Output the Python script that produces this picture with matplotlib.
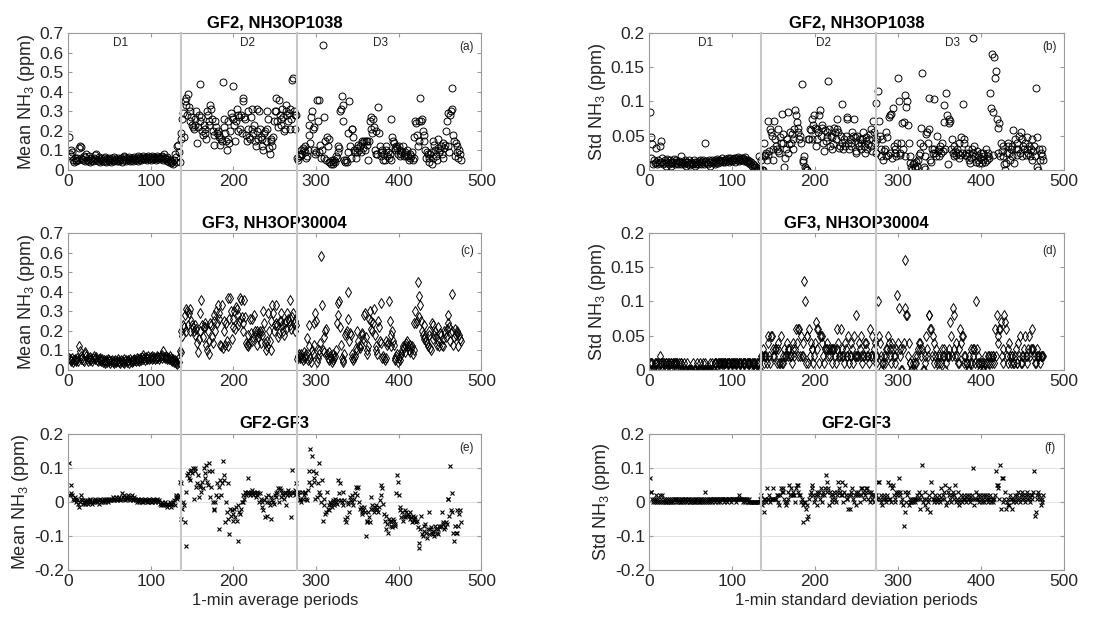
import numpy as np
import matplotlib
matplotlib.use('Agg')
import matplotlib.pyplot as plt
from matplotlib.lines import Line2D
from matplotlib.transforms import blended_transform_factory

plt.rcParams['font.family'] = ['Liberation Sans', 'DejaVu Sans']
plt.rcParams['mathtext.default'] = 'regular'

# values, in ppb (one value per period, periods start at 1)
mean_gf2 = [
    170, 80, 100, 70, 90, 50, 40, 60, 50, 45,
    60, 50, 110, 120, 115, 60, 55, 50, 70, 45,
    65, 80, 50, 45, 70, 40, 55, 60, 50, 45,
    60, 55, 75, 80, 50, 45, 65, 55, 40, 60,
    50, 45, 60, 65, 45, 40, 55, 50, 60, 45,
    55, 40, 60, 50, 45, 65, 50, 55, 45, 60,
    50, 45, 55, 60, 40, 50, 70, 65, 55, 45,
    60, 50, 55, 65, 45, 50, 60, 55, 45, 65,
    55, 50, 60, 70, 45, 55, 65, 50, 60, 55,
    70, 60, 55, 65, 50, 60, 70, 55, 65, 50,
    60, 70, 55, 65, 60, 50, 70, 60, 55, 65,
    60, 55, 70, 65, 50, 80, 60, 55, 65, 45,
    55, 40, 50, 35, 45, 40, 30, 50, 80, 65,
    40, 120, 130, 90, 40, 190, 160, 260, 290, 170,
    350, 370, 330, 280, 390, 320, 300, 250, 270, 230,
    220, 210, 230, 260, 300, 140, 220, 280, 440, 250,
    270, 200, 180, 230, 210, 190, 160, 300, 280, 230,
    250, 330, 310, 260, 200, 180, 130, 250, 220, 190,
    200, 170, 180, 130, 160, 150, 450, 260, 220, 190,
    150, 100, 250, 160, 140, 200, 290, 270, 430, 260,
    230, 150, 250, 310, 280, 200, 270, 210, 280, 190,
    370, 350, 270, 260, 180, 150, 300, 210, 170, 160,
    270, 310, 210, 190, 230, 150, 120, 200, 310, 160,
    300, 210, 170, 120, 160, 100, 190, 200, 150, 210,
    300, 260, 110, 80, 160, 150, 120, 170, 250, 300,
    370, 300, 250, 220, 360, 280, 230, 260, 310, 270,
    200, 210, 330, 300, 280, 250, 290, 210, 310, 260,
    460, 470, 300, 210, 280, 280, 60, 50, 70, 80,
    70, 100, 80, 110, 100, 90, 120, 60, 70, 100,
    230, 180, 140, 270, 300, 210, 220, 100, 80, 90,
    360, 250, 360, 90, 130, 60, 100, 640, 270, 60,
    150, 50, 170, 120, 40, 160, 40, 30, 50, 40,
    30, 50, 40, 70, 60, 90, 120, 110, 300, 310,
    380, 330, 250, 50, 40, 50, 40, 90, 190, 350,
    120, 60, 210, 210, 170, 100, 90, 60, 110, 90,
    130, 100, 120, 90, 150, 140, 110, 150, 100, 150,
    130, 150, 50, 150, 250, 270, 210, 190, 260, 220,
    100, 80, 200, 80, 320, 190, 120, 90, 70, 100,
    50, 80, 50, 120, 100, 70, 90, 60, 80, 260,
    50, 170, 150, 140, 100, 110, 120, 110, 80, 120,
    70, 100, 80, 90, 120, 70, 90, 80, 70, 100,
    70, 50, 60, 80, 70, 90, 50, 60, 170, 250,
    240, 180, 120, 150, 250, 370, 250, 260, 200, 180,
    150, 100, 60, 90, 80, 40, 60, 80, 90, 30,
    60, 150, 130, 100, 70, 50, 110, 160, 90, 100,
    120, 80, 60, 140, 110, 130, 200, 250, 290, 120,
    90, 280, 300, 420, 310, 180, 150, 70, 140, 90,
    120, 60, 100, 80, 50,
]

std_gf2 = [
    85, 48, 18, 38, 8, 15, 10, 12, 32, 8,
    15, 10, 35, 42, 12, 18, 8, 10, 14, 6,
    12, 16, 10, 8, 14, 12, 6, 10, 12, 16,
    9, 12, 15, 10, 8, 13, 11, 20, 9, 12,
    10, 8, 14, 11, 6, 12, 9, 15, 10, 7,
    12, 10, 8, 14, 6, 11, 9, 12, 8, 13,
    10, 14, 8, 12, 15, 9, 40, 11, 13, 10,
    8, 14, 12, 6, 11, 15, 10, 13, 9, 14,
    12, 16, 10, 14, 11, 15, 13, 17, 12, 14,
    15, 11, 16, 13, 18, 14, 12, 17, 15, 13,
    16, 14, 18, 12, 17, 15, 19, 13, 16, 14,
    18, 15, 17, 13, 16, 19, 14, 12, 15, 10,
    13, 8, 12, 6, 9, 4, 7, 2, 5, 0,
    3, 20, 1, 0, 15, 0, 0, 20, 40, 22,
    25, 15, 72, 22, 28, 60, 55, 50, 15, 30,
    72, 45, 35, 30, 28, 60, 25, 48, 40, 82,
    52, 40, 5, 18, 30, 45, 25, 85, 38, 55,
    40, 52, 30, 45, 60, 87, 80, 70, 62, 55,
    45, 50, 40, 125, 15, 12, 20, 5, 2, 0,
    0, 45, 45, 60, 58, 75, 45, 65, 80, 62,
    35, 45, 60, 55, 80, 88, 50, 62, 65, 40,
    28, 58, 42, 48, 55, 130, 60, 35, 50, 30,
    48, 38, 62, 55, 45, 75, 60, 55, 32, 35,
    50, 97, 40, 30, 45, 35, 50, 75, 78, 40,
    30, 45, 40, 35, 55, 50, 75, 48, 25, 28,
    50, 40, 35, 45, 30, 40, 45, 55, 35, 25,
    48, 42, 30, 38, 45, 52, 60, 35, 28, 72,
    55, 40, 98, 25, 45, 115, 72, 50, 30, 20,
    45, 15, 28, 30, 20, 55, 48, 22, 78, 80,
    25, 82, 18, 90, 35, 25, 30, 20, 40, 135,
    100, 25, 22, 40, 68, 30, 70, 20, 110, 92,
    100, 65, 40, 10, 20, 5, 0, 8, 10, 5,
    3, 12, 6, 15, 22, 25, 40, 62, 142, 35,
    5, 2, 20, 52, 55, 40, 105, 60, 15, 12,
    30, 25, 103, 30, 25, 20, 50, 28, 30, 20,
    35, 25, 40, 28, 70, 95, 30, 112, 80, 8,
    75, 68, 72, 30, 45, 25, 20, 35, 28, 22,
    30, 25, 18, 40, 22, 48, 25, 97, 45, 40,
    22, 25, 20, 30, 15, 25, 10, 18, 30, 25,
    193, 35, 20, 12, 28, 15, 22, 10, 18, 25,
    10, 15, 25, 20, 12, 30, 15, 25, 20, 18,
    113, 90, 170, 85, 22, 165, 135, 145, 75, 62,
    25, 68, 20, 40, 28, 20, 35, 8, 0, 10,
    25, 40, 35, 25, 15, 30, 35, 20, 58, 10,
    45, 30, 22, 40, 30, 50, 25, 55, 45, 20,
    35, 30, 40, 22, 30, 48, 25, 35, 20, 30,
    15, 45, 28, 35, 20, 120, 5, 48, 0, 30,
    15, 25, 20, 30, 15,
]

mean_gf3 = [
    60, 55, 50, 45, 60, 40, 50, 55, 45, 50,
    60, 45, 125, 95, 70, 55, 60, 50, 45, 80,
    90, 70, 55, 45, 60, 50, 65, 55, 45, 60,
    70, 55, 60, 65, 50, 45, 55, 60, 50, 45,
    55, 40, 50, 45, 35, 50, 40, 55, 45, 50,
    35, 45, 50, 40, 45, 35, 50, 40, 45, 55,
    40, 45, 35, 50, 45, 40, 55, 35, 45, 50,
    40, 50, 45, 35, 55, 45, 40, 50, 45, 55,
    50, 45, 60, 50, 55, 45, 60, 50, 65, 55,
    75, 60, 50, 65, 55, 60, 70, 55, 60, 65,
    55, 70, 60, 65, 55, 60, 70, 60, 65, 55,
    65, 70, 60, 75, 95, 65, 60, 70, 55, 65,
    60, 55, 70, 50, 60, 45, 55, 40, 50, 35,
    45, 30, 55, 40, 95, 200, 90, 175, 230, 220,
    280, 310, 200, 300, 230, 290, 200, 310, 250, 230,
    220, 200, 180, 230, 210, 140, 90, 160, 290, 200,
    360, 230, 170, 220, 240, 220, 130, 100, 200, 80,
    150, 240, 230, 170, 140, 280, 250, 200, 300, 240,
    330, 260, 290, 130, 120, 330, 110, 200, 250, 130,
    240, 150, 120, 370, 260, 370, 300, 160, 260, 220,
    300, 210, 320, 310, 230, 280, 250, 370, 360, 270,
    240, 200, 360, 270, 140, 130, 120, 180, 140, 260,
    190, 150, 260, 170, 280, 200, 180, 130, 200, 170,
    190, 200, 140, 200, 180, 300, 240, 140, 100, 150,
    120, 290, 200, 150, 100, 250, 330, 290, 200, 230,
    330, 240, 230, 170, 190, 250, 290, 250, 230, 200,
    180, 240, 250, 210, 290, 260, 250, 360, 230, 210,
    270, 290, 240, 200, 250, 230, 55, 70, 80, 60,
    70, 80, 60, 50, 90, 70, 60, 80, 165, 50,
    230, 120, 60, 40, 100, 80, 130, 240, 290, 250,
    40, 60, 100, 80, 140, 580, 330, 100, 170, 90,
    200, 210, 80, 60, 90, 50, 70, 60, 40, 50,
    80, 60, 70, 100, 240, 280, 340, 350, 220, 130,
    60, 40, 50, 80, 180, 190, 200, 260, 400, 150,
    190, 180, 60, 80, 50, 60, 70, 110, 100, 200,
    150, 120, 110, 130, 190, 180, 160, 280, 290, 170,
    80, 100, 120, 260, 300, 250, 210, 200, 240, 310,
    180, 120, 100, 80, 250, 220, 150, 340, 140, 60,
    70, 60, 50, 60, 150, 130, 140, 350, 250, 120,
    180, 200, 150, 130, 60, 50, 70, 80, 40, 60,
    50, 70, 80, 100, 120, 110, 90, 130, 140, 150,
    120, 100, 90, 130, 110, 120, 80, 100, 240, 300,
    240, 250, 450, 380, 270, 330, 250, 200, 180, 160,
    230, 170, 150, 140, 120, 180, 200, 110, 100, 240,
    230, 160, 180, 200, 170, 130, 150, 220, 120, 190,
    180, 130, 160, 120, 200, 190, 170, 210, 240, 280,
    220, 150, 190, 390, 200, 130, 170, 210, 180, 200,
    190, 120, 180, 160, 150,
]

std_gf3 = [
    10, 10, 0, 10, 0, 0, 10, 0, 10, 10,
    0, 10, 20, 10, 10, 0, 10, 10, 0, 10,
    10, 0, 10, 10, 0, 10, 10, 0, 10, 10,
    10, 0, 10, 10, 0, 10, 0, 10, 10, 0,
    0, 10, 0, 0, 0, 10, 0, 0, 0, 0,
    0, 0, 10, 0, 0, 0, 0, 10, 0, 0,
    10, 0, 0, 0, 10, 0, 0, 10, 0, 0,
    0, 0, 10, 0, 0, 10, 0, 0, 10, 10,
    10, 0, 10, 10, 10, 0, 10, 10, 10, 10,
    10, 10, 0, 10, 10, 10, 10, 0, 10, 10,
    10, 10, 0, 10, 10, 10, 0, 10, 10, 10,
    10, 0, 10, 10, 10, 10, 0, 10, 10, 10,
    10, 10, 0, 10, 10, 0, 10, 10, 0, 10,
    10, 0, 10, 0, 20, 20, 30, 10, 20, 20,
    20, 10, 40, 50, 20, 10, 50, 50, 30, 20,
    20, 30, 30, 10, 40, 30, 10, 10, 50, 10,
    10, 20, 30, 20, 20, 40, 20, 30, 30, 20,
    20, 10, 40, 30, 20, 30, 60, 40, 20, 60,
    60, 20, 50, 20, 20, 40, 130, 100, 10, 50,
    50, 10, 60, 20, 40, 30, 30, 10, 20, 40,
    70, 30, 60, 60, 10, 50, 50, 50, 40, 20,
    10, 30, 30, 30, 40, 20, 30, 20, 30, 10,
    30, 30, 30, 20, 10, 60, 30, 40, 20, 20,
    60, 20, 30, 20, 10, 40, 30, 20, 20, 50,
    10, 20, 40, 20, 30, 10, 50, 20, 20, 80,
    20, 20, 40, 30, 20, 50, 10, 20, 20, 40,
    40, 30, 20, 20, 10, 60, 20, 20, 50, 20,
    30, 40, 20, 10, 20, 100, 50, 40, 20, 0,
    10, 10, 20, 10, 20, 30, 30, 50, 40, 20,
    30, 10, 40, 30, 20, 20, 10, 30, 110, 40,
    90, 30, 20, 0, 0, 30, 40, 160, 90, 80,
    80, 20, 40, 10, 10, 0, 0, 10, 0, 20,
    10, 10, 20, 30, 40, 40, 30, 20, 30, 0,
    0, 10, 20, 50, 30, 20, 80, 80, 60, 60,
    20, 50, 40, 10, 20, 30, 10, 20, 0, 10,
    20, 10, 30, 20, 30, 20, 0, 10, 20, 20,
    30, 20, 70, 50, 20, 90, 80, 30, 20, 40,
    20, 10, 10, 30, 60, 40, 50, 50, 20, 10,
    20, 10, 10, 0, 20, 0, 10, 30, 10, 20,
    30, 30, 10, 100, 30, 10, 20, 10, 0, 10,
    10, 0, 0, 10, 20, 10, 0, 10, 20, 20,
    10, 20, 10, 20, 20, 10, 60, 20, 80, 50,
    40, 60, 60, 70, 20, 30, 10, 80, 70, 60,
    20, 10, 30, 40, 20, 10, 20, 20, 10, 10,
    20, 30, 10, 10, 40, 20, 50, 10, 20, 10,
    20, 30, 50, 20, 10, 20, 30, 50, 20, 30,
    60, 30, 30, 20, 10, 10, 20, 30, 20, 20,
    10, 20, 20, 20, 20,
]

mean_diff = [
    115, 20, 50, 25, 20, 10, 5, 15, 0, 10,
    5, -5, -15, 0, 20, 10, 5, -5, 0, 5,
    -5, 0, 5, -5, 0, 10, 5, 0, -5, 0,
    5, 10, 0, 5, 0, 5, -5, 10, 5, 0,
    5, 0, 10, 5, 0, 10, 5, 0, 5, 10,
    5, 10, 5, 15, 10, 5, 10, 15, 5, 10,
    10, 15, 5, 10, 25, 15, 20, 10, 5, 15,
    10, 20, 15, 10, 5, 15, 20, 10, 5, 15,
    10, 5, 0, 10, 5, 0, 5, 10, 0, 5,
    0, 5, 10, 5, 0, 5, 0, 10, 5, 0,
    5, 0, 10, 5, 0, 5, 10, 5, 0, 5,
    -5, -10, 0, -5, -10, -5, 0, -10, -5, -15,
    -5, -10, 0, -5, -15, -5, 0, 5, -10, 15,
    20, 10, 15, 20, 60, 55, -50, -20, 0, -10,
    -60, -130, 30, 80, 85, 70, 65, 90, 95, 85,
    100, 10, 100, 90, 45, 55, 80, 15, 50, 45,
    30, 60, 40, 100, 70, 85, 110, 60, 50, 90,
    115, 15, 45, 90, 0, -20, -25, 0, 20, 55,
    15, 45, -80, 65, 20, 55, 120, 80, 65, -60,
    0, -30, -50, 55, -95, -20, -40, -25, -55, -35,
    -20, -45, -15, -55, -115, -10, -30, -35, -20, 0,
    20, 0, 10, 30, 20, 25, 70, 30, 25, 20,
    30, 25, 35, 20, 30, 25, 15, 30, 20, 25,
    0, 25, 10, -15, 0, -25, 5, -45, 15, -40,
    0, 20, 0, -10, 15, -50, 5, 0, -5, 20,
    25, 15, 30, 40, 0, 40, 35, 15, 25, 20,
    10, 30, 25, -10, 20, 35, 25, 30, 20, -45,
    95, 25, 30, 20, 35, 55, 30, 20, 30, 5,
    10, 0, 30, 10, 20, 25, 30, 10, 5, 35,
    90, 60, 155, 50, 135, 90, 70, 60, 10, 85,
    15, 55, 115, 30, 20, 0, 65, -55, 10, -10,
    -35, -30, 30, -20, -10, -25, 0, -5, -15, 5,
    0, -10, 10, 0, -5, 5, 65, 25, 55, 5,
    0, 30, -10, 5, -50, -60, -45, -5, 0, -30,
    15, 5, 20, 0, -10, 10, 25, 45, 40, 20,
    45, 0, -20, -15, -30, -35, -25, -15, -30, -100,
    -60, -55, -30, -45, -60, -20, 15, -10, -20, -30,
    -15, -25, -10, -20, -30, -15, 5, 20, 50, 40,
    -5, -35, -55, -40, -80, -65, -90, -50, -55, -70,
    -60, -75, -50, -55, -70, -65, 25, 80, 60, 20,
    -15, -25, -45, -30, -55, -40, -25, -45, -30, -40,
    -35, -40, -50, -30, -45, -60, -40, -55, -50, -45,
    -60, -55, -75, -135, -120, -80, -40, -95, -100, -70,
    -85, -65, -90, -105, -80, -30, -95, -80, -75, -90,
    -85, -95, -100, -70, -80, -90, -95, -80, -70, -75,
    -70, -30, -65, -60, -80, -75, -60, -65, 10, 10,
    -40, 105, -25, 25, -30, -90, -115, -70, -90, -25,
    -90, -70, -35, -25, -60,
]

std_diff = [
    70, 30, 30, 10, 0, 10, 0, 20, 10, 0,
    10, 0, 20, 10, 0, 20, 0, 10, 0, 10,
    0, 0, 10, 0, 10, 0, 0, 10, 0, 10,
    10, 0, 10, 10, 0, 10, 0, 10, 0, 10,
    0, 10, 10, 0, 10, 0, 10, 10, 0, 0,
    10, 0, 10, 0, 10, 0, 10, 0, 10, 0,
    10, 0, 10, 0, 10, 0, 10, 30, 0, 10,
    0, 10, 10, 0, 10, 0, 10, 10, 10, 0,
    10, 10, 0, 10, 10, 0, 10, 10, 10, 0,
    10, 10, 10, 0, 10, 10, 10, 10, 0, 10,
    10, 10, 10, 10, 0, 10, 10, 20, 10, 10,
    10, 10, 0, 10, 10, 0, 10, 10, 0, 10,
    0, 0, 0, 0, 0, 0, 0, 0, 0, 0,
    0, 0, 0, 10, 20, -10, 0, -30, 10, 10,
    0, 40, 10, 10, 20, 0, 10, 10, 40, 10,
    10, 10, 10, 20, 20, 0, -10, 20, 40, 30,
    40, 30, 10, 0, -10, 0, 10, 30, 50, 20,
    40, 20, 20, 30, 20, 0, 40, 50, 30, 50,
    20, 20, 0, 10, -10, -60, 0, 0, -20, -10,
    -50, -40, 10, 20, 30, 50, 40, 20, 0, 10,
    20, 30, -10, 20, 30, 10, 40, 20, 0, 30,
    20, 40, 80, 60, 30, 40, -10, 30, 20, 0,
    10, 20, 30, 10, 0, 20, 30, 60, 40, 30,
    20, 60, 20, 0, 30, 50, 20, 10, 10, -20,
    20, -20, 30, 20, 40, 10, 0, 20, 30, -10,
    20, 30, 20, 0, 40, 20, 40, 30, 10, 20,
    30, 40, 40, 10, 30, 0, 20, 30, 10, 20,
    0, 20, 10, 20, 10, 60, 60, 10, 20, 0,
    -10, 10, 20, 10, 0, 10, 20, 60, 10, 50,
    10, 0, 40, 50, 20, 0, 10, 30, 20, 30,
    70, 20, 30, 0, 10, -10, -70, -30, 30, 0,
    20, 30, -10, 0, 10, 0, 10, 0, 10, 10,
    0, 10, 20, 10, 30, -20, 10, 20, 110, 0,
    10, -10, 30, 10, -20, 0, 20, 10, -30, 60,
    30, 10, 0, 10, 20, 10, 0, 10, 20, 10,
    0, 40, 10, 20, 30, 10, 50, -10, 0, 30,
    20, 40, 10, 0, 20, 30, 10, 20, 50, 0,
    10, 30, 0, -10, 10, 20, 0, 10, 20, 10,
    10, 0, 20, 10, 20, 10, 0, 10, 20, 10,
    100, -10, 10, 30, 10, 20, 10, 0, 20, 10,
    0, 20, 10, 0, 20, 10, 20, 0, 10, 10,
    20, 0, 10, 10, 0, 10, 20, 90, 50, 50,
    40, 10, 110, -20, 70, 70, 0, 10, 30, -20,
    0, -10, 10, -10, 20, 10, -20, 10, 0, 10,
    20, 0, 10, 20, 30, 10, 0, 20, 10, 30,
    20, 10, 0, 20, 10, 30, 20, 10, 0, 20,
    10, 20, 30, 90, -40, -30, 20, 10, 30, 20,
    10, -10, 0, 10, 20,
]

breaks_avg = [136, 277]
breaks_std = [135, 274]
period_names = ['D1', 'D2', 'D3']
name_pos_avg = [63, 217, 378]
name_pos_std = [68, 210, 366]

box_color = '#9a9a9a'
text_color = '#262626'
break_color = '#c8c8c8'

fig = plt.figure(figsize=(11.17, 6.19), dpi=100)

col_left = [0.061, 0.581]
col_width = [0.370, 0.3715]
row_bottom = [0.7254, 0.4023, 0.0792]
row_height = [0.2213, 0.2213, 0.2197]

# (series, marker, ylabel, title, tag, ylim, ytick step)
panels = [
    [(mean_gf2, 'o', 'Mean NH$_3$ (ppm)', 'GF2, NH3OP1038', '(a)', (0, 0.7), 0.1),
     (std_gf2, 'o', 'Std NH$_3$ (ppm)', 'GF2, NH3OP1038', '(b)', (0, 0.2), 0.05)],
    [(mean_gf3, 'd', 'Mean NH$_3$ (ppm)', 'GF3, NH3OP30004', '(c)', (0, 0.7), 0.1),
     (std_gf3, 'd', 'Std NH$_3$ (ppm)', 'GF3, NH3OP30004', '(d)', (0, 0.2), 0.05)],
    [(mean_diff, 'x', 'Mean NH$_3$ (ppm)', 'GF2-GF3', '(e)', (-0.2, 0.2), 0.1),
     (std_diff, 'x', 'Std NH$_3$ (ppm)', 'GF2-GF3', '(f)', (-0.2, 0.2), 0.1)],
]
xlabels = ['1-min average periods', '1-min standard deviation periods']

axes = [[None, None] for _ in range(3)]
for r in range(3):
    for c in range(2):
        values, marker, ylabel, title, tag, ylim, step = panels[r][c]
        ax = fig.add_axes([col_left[c], row_bottom[r], col_width[c], row_height[r]])
        axes[r][c] = ax
        y = np.array(values) / 1000.0
        x = np.arange(1, len(y) + 1)
        if marker == 'o':
            ax.plot(x, y, ls='none', marker='o', mfc='none', mec='k', ms=5, mew=0.7)
        elif marker == 'd':
            ax.plot(x, y, ls='none', marker='d', mfc='none', mec='k', ms=5, mew=0.7)
        else:
            ax.plot(x, y, ls='none', marker='x', color='k', ms=3.2, mew=0.8)

        ax.set_xlim(0, 500)
        ax.set_ylim(*ylim)
        ax.set_xticks(range(0, 501, 100))
        yt = np.arange(ylim[0], ylim[1] + step / 2, step)
        yt = np.round(yt, 3)
        ax.set_yticks(yt, labels=[f'{v:g}' for v in yt])
        ax.tick_params(direction='in', top=True, right=True, length=3,
                       color=box_color, labelcolor=text_color, labelsize=12.5, pad=3)
        for s in ax.spines.values():
            s.set_color(box_color)
            s.set_linewidth(0.8)
        ax.set_ylabel(ylabel, fontsize=13, color=text_color, labelpad=2)
        ax.set_title(title, fontsize=12, fontweight='bold', pad=4)
        if r == 2:
            ax.yaxis.grid(True, color='#e3e3e3', lw=0.8)
            ax.set_axisbelow(True)
            ax.set_xlabel(xlabels[c], fontsize=12, color=text_color, labelpad=3)
        tag_y = {0: 0.9, 1: 0.865, 2: 0.895}[r]
        ax.text(0.965, tag_y, tag, transform=ax.transAxes, fontsize=8.5,
                ha='center', va='center', color=text_color)
        if r == 0:
            names_x = name_pos_avg if c == 0 else name_pos_std
            trans = blended_transform_factory(ax.transData, ax.transAxes)
            for nx, name in zip(names_x, period_names):
                ax.text(nx, 0.925, name, transform=trans, fontsize=8.5,
                        ha='center', va='center', color=text_color)

# period boundaries run through all three rows
for c, breaks in enumerate([breaks_avg, breaks_std]):
    top_ax = axes[0][c]
    bot_ax = axes[2][c]
    y0 = bot_ax.get_position().y0
    y1 = top_ax.get_position().y1
    trans = blended_transform_factory(top_ax.transData, fig.transFigure)
    for b in breaks:
        fig.add_artist(Line2D([b, b], [y0, y1], transform=trans,
                              color=break_color, lw=1.5, zorder=10))

fig.savefig('out.png', dpi=100)
